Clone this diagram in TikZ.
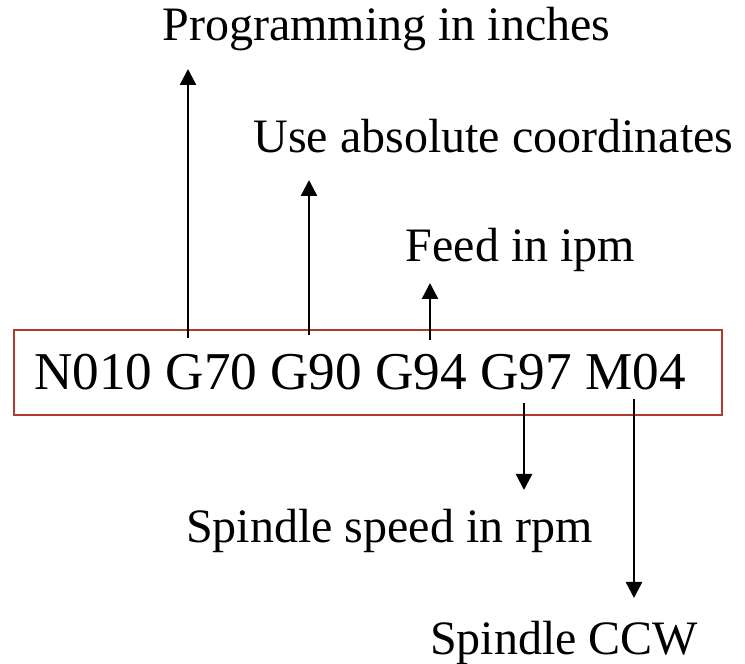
\documentclass[tikz,border=0pt]{standalone}
\usepackage{fontspec}
\setmainfont{Liberation Serif}
\usetikzlibrary{arrows.meta}
\definecolor{boxred}{RGB}{176,58,46}

\begin{document}
\begin{tikzpicture}[x=0.5pt, y=0.5pt,
    codebox/.style={draw=boxred, line width=1pt, minimum width=354pt, minimum height=42.5pt,
      font=\fontsize{26.6}{30}\selectfont},
    note/.style={inner sep=0pt, anchor=base, font=\fontsize{24}{28}\selectfont},
    arrow/.style={line width=1.2pt, -{Triangle[length=8pt, width=8pt]}}
  ]
    \useasboundingbox (0,0) rectangle (745,664);

    % The program block
    \node (code) [codebox] at (368,291.5) {N010 G70 G90 G94 G97 M04\kern8pt};

    % Meaning of each word
    \node (prog) [note] at (386.5,623) {Programming in inches};
    \node (abs) [note] at (493.5,511) {Use absolute coordinates};
    \node (feed) [note] at (520.5,402) {Feed in ipm};
    \node (rpm) [note] at (389.5,121) {Spindle speed in rpm};
    \node (ccw) [note] at (564,9) {Spindle CCW};

    % Arrow ends
    \coordinate (g70) at (188,326);
    \coordinate (g90) at (309,329);
    \coordinate (g94) at (430,324);
    \coordinate (g97) at (524,261);
    \coordinate (m04) at (634,265);

    \draw[arrow] (g70) -- (g70 |- 0,595);
    \draw[arrow] (g90) -- (g90 |- 0,484);
    \draw[arrow] (g94) -- (g94 |- 0,381);
    \draw[arrow] (g97) -- (g97 |- 0,174);
    \draw[arrow] (m04) -- (m04 |- 0,66);

\end{tikzpicture}
\end{document}
